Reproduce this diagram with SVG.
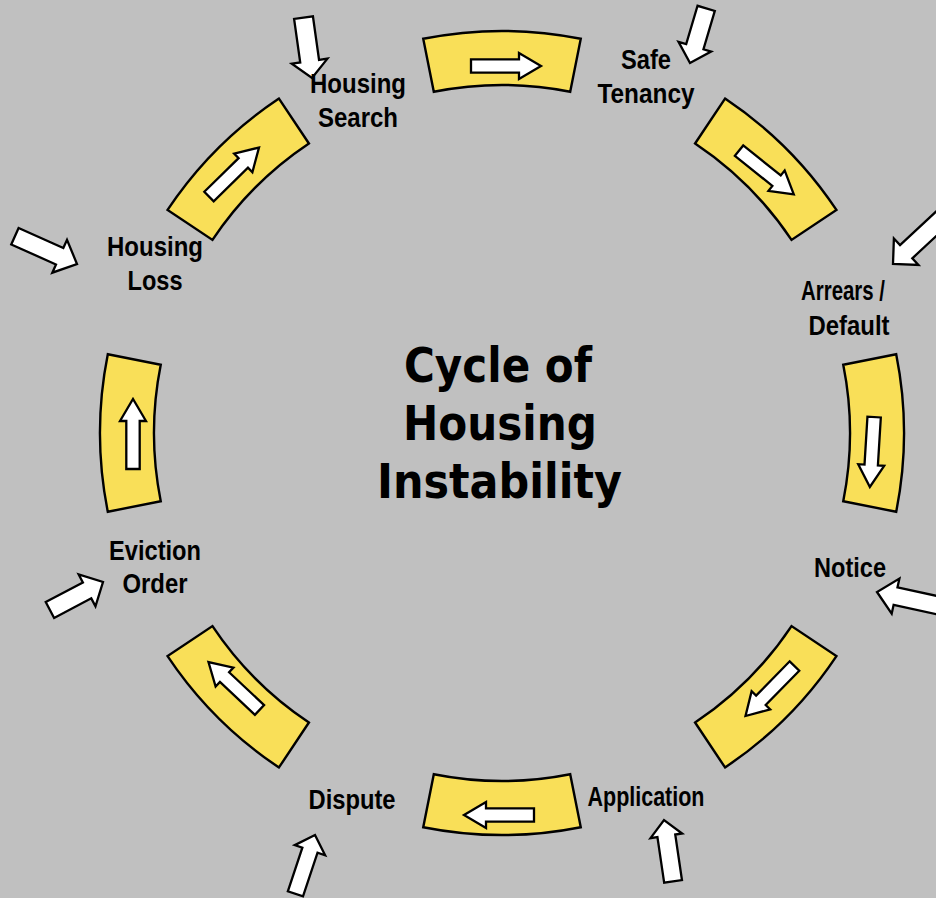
<svg xmlns="http://www.w3.org/2000/svg" width="936" height="898" viewBox="0 0 936 898">
  <defs>
    <path id="seg" d="M423.23,38.8 A402,402 0 0 1 580.77,38.8 L570.19,91.75 A348,348 0 0 0 433.81,91.75 Z"/>
    <path id="inarrow" d="M-35,-6.7 L13,-6.7 L13,-13 L35,0 L13,13 L13,6.7 L-35,6.7 Z"/>
  </defs>
  <style>
    .bg { fill: #C0C0C0; }
    .band { fill: #F9DF58; stroke: #000; stroke-width: 2.4; stroke-linejoin: miter; }
    .warrow { fill: #FFFFFF; stroke: #000; stroke-width: 2.3; stroke-linejoin: miter; }
    .lbl { font-family: "Liberation Sans Narrow", "Liberation Sans", Arial, sans-serif; font-weight: bold; font-size: 27px; fill: #000; text-anchor: middle; }
    .title { font-family: "DejaVu Sans", Verdana, sans-serif; font-weight: bold; font-size: 48px; fill: #000; text-anchor: middle; }
  </style>
  <rect class="bg" x="0" y="0" width="936" height="898"/>

  <g id="connectors">
    <g id="cycle-bands">
      <use href="#seg" class="band"/>
      <use href="#seg" class="band" transform="rotate(45 502 433)"/>
      <use href="#seg" class="band" transform="rotate(90 502 433)"/>
      <use href="#seg" class="band" transform="rotate(135 502 433)"/>
      <use href="#seg" class="band" transform="rotate(180 502 433)"/>
      <use href="#seg" class="band" transform="rotate(225 502 433)"/>
      <use href="#seg" class="band" transform="rotate(270 502 433)"/>
      <use href="#seg" class="band" transform="rotate(315 502 433)"/>
    </g>
    <g id="cycle-arrows">
      <use href="#inarrow" class="warrow" transform="translate(506,66)"/>
      <use href="#inarrow" class="warrow" transform="translate(766.4,172.5) rotate(38.6)"/>
      <use href="#inarrow" class="warrow" transform="translate(872,452) rotate(93.5)"/>
      <use href="#inarrow" class="warrow" transform="translate(770,691) rotate(134.4)"/>
      <use href="#inarrow" class="warrow" transform="translate(499,815) rotate(180)"/>
      <use href="#inarrow" class="warrow" transform="translate(234,686) rotate(-136.8)"/>
      <use href="#inarrow" class="warrow" transform="translate(133,434) rotate(-90)"/>
      <use href="#inarrow" class="warrow" transform="translate(234,172) rotate(-44.4)"/>
    </g>
    <g id="input-arrows">
      <path class="warrow" transform="translate(312,78) rotate(82)" d="M-61,-9.5 L-17,-9.5 L-17,-18 L0,0 L-17,18 L-17,9.5 L-61,9.5 Z"/>
      <path class="warrow" transform="translate(690,63) rotate(106.5)" d="M-57,-9 L-17,-9 L-17,-17 L0,0 L-17,17 L-17,9 L-57,9 Z"/>
      <path class="warrow" transform="translate(893,264) rotate(137)" d="M-75,-9 L-18,-9 L-18,-18 L0,0 L-18,18 L-18,9 L-75,9 Z"/>
      <path class="warrow" transform="translate(877,592) rotate(192.4)" d="M-75,-9 L-19,-9 L-19,-18 L0,0 L-19,18 L-19,9 L-75,9 Z"/>
      <path class="warrow" transform="translate(664,820) rotate(-98.4)" d="M-62,-9 L-16,-9 L-16,-16 L0,0 L-16,16 L-16,9 L-62,9 Z"/>
      <path class="warrow" transform="translate(315,835) rotate(-71.6)" d="M-62,-8 L-16,-8 L-16,-16 L0,0 L-16,16 L-16,8 L-62,8 Z"/>
      <path class="warrow" transform="translate(103,582) rotate(-27.8)" d="M-60,-9 L-18,-9 L-18,-18 L0,0 L-18,18 L-18,9 L-60,9 Z"/>
      <path class="warrow" transform="translate(77,264) rotate(24.1)" d="M-68,-9 L-19,-9 L-19,-18 L0,0 L-19,18 L-19,9 L-68,9 Z"/>
    </g>
  </g>

  <g id="node-safe-tenancy">
    <text class="lbl" x="646" y="69" textLength="50" lengthAdjust="spacingAndGlyphs">Safe</text>
    <text class="lbl" x="646" y="103" textLength="97" lengthAdjust="spacingAndGlyphs">Tenancy</text>
  </g>
  <g id="node-arrears-default">
    <text class="lbl" x="843" y="300" textLength="84" lengthAdjust="spacingAndGlyphs">Arrears /</text>
    <text class="lbl" x="849" y="335" textLength="81" lengthAdjust="spacingAndGlyphs">Default</text>
  </g>
  <g id="node-notice">
    <text class="lbl" x="850" y="577" textLength="72" lengthAdjust="spacingAndGlyphs">Notice</text>
  </g>
  <g id="node-application">
    <text class="lbl" x="646" y="806" textLength="117" lengthAdjust="spacingAndGlyphs">Application</text>
  </g>
  <g id="node-dispute">
    <text class="lbl" x="352" y="809" textLength="87" lengthAdjust="spacingAndGlyphs">Dispute</text>
  </g>
  <g id="node-eviction-order">
    <text class="lbl" x="155" y="560" textLength="92" lengthAdjust="spacingAndGlyphs">Eviction</text>
    <text class="lbl" x="155" y="593" textLength="65" lengthAdjust="spacingAndGlyphs">Order</text>
  </g>
  <g id="node-housing-loss">
    <text class="lbl" x="155" y="256" textLength="96" lengthAdjust="spacingAndGlyphs">Housing</text>
    <text class="lbl" x="155" y="290" textLength="55" lengthAdjust="spacingAndGlyphs">Loss</text>
  </g>
  <g id="node-housing-search">
    <text class="lbl" x="358" y="93" textLength="96" lengthAdjust="spacingAndGlyphs">Housing</text>
    <text class="lbl" x="358" y="127" textLength="80" lengthAdjust="spacingAndGlyphs">Search</text>
  </g>

  <g id="title">
    <text class="title" x="498" y="382" textLength="188" lengthAdjust="spacingAndGlyphs">Cycle of</text>
    <text class="title" x="500" y="440" textLength="194" lengthAdjust="spacingAndGlyphs">Housing</text>
    <text class="title" x="499.5" y="498" textLength="245" lengthAdjust="spacingAndGlyphs">Instability</text>
  </g>
</svg>
